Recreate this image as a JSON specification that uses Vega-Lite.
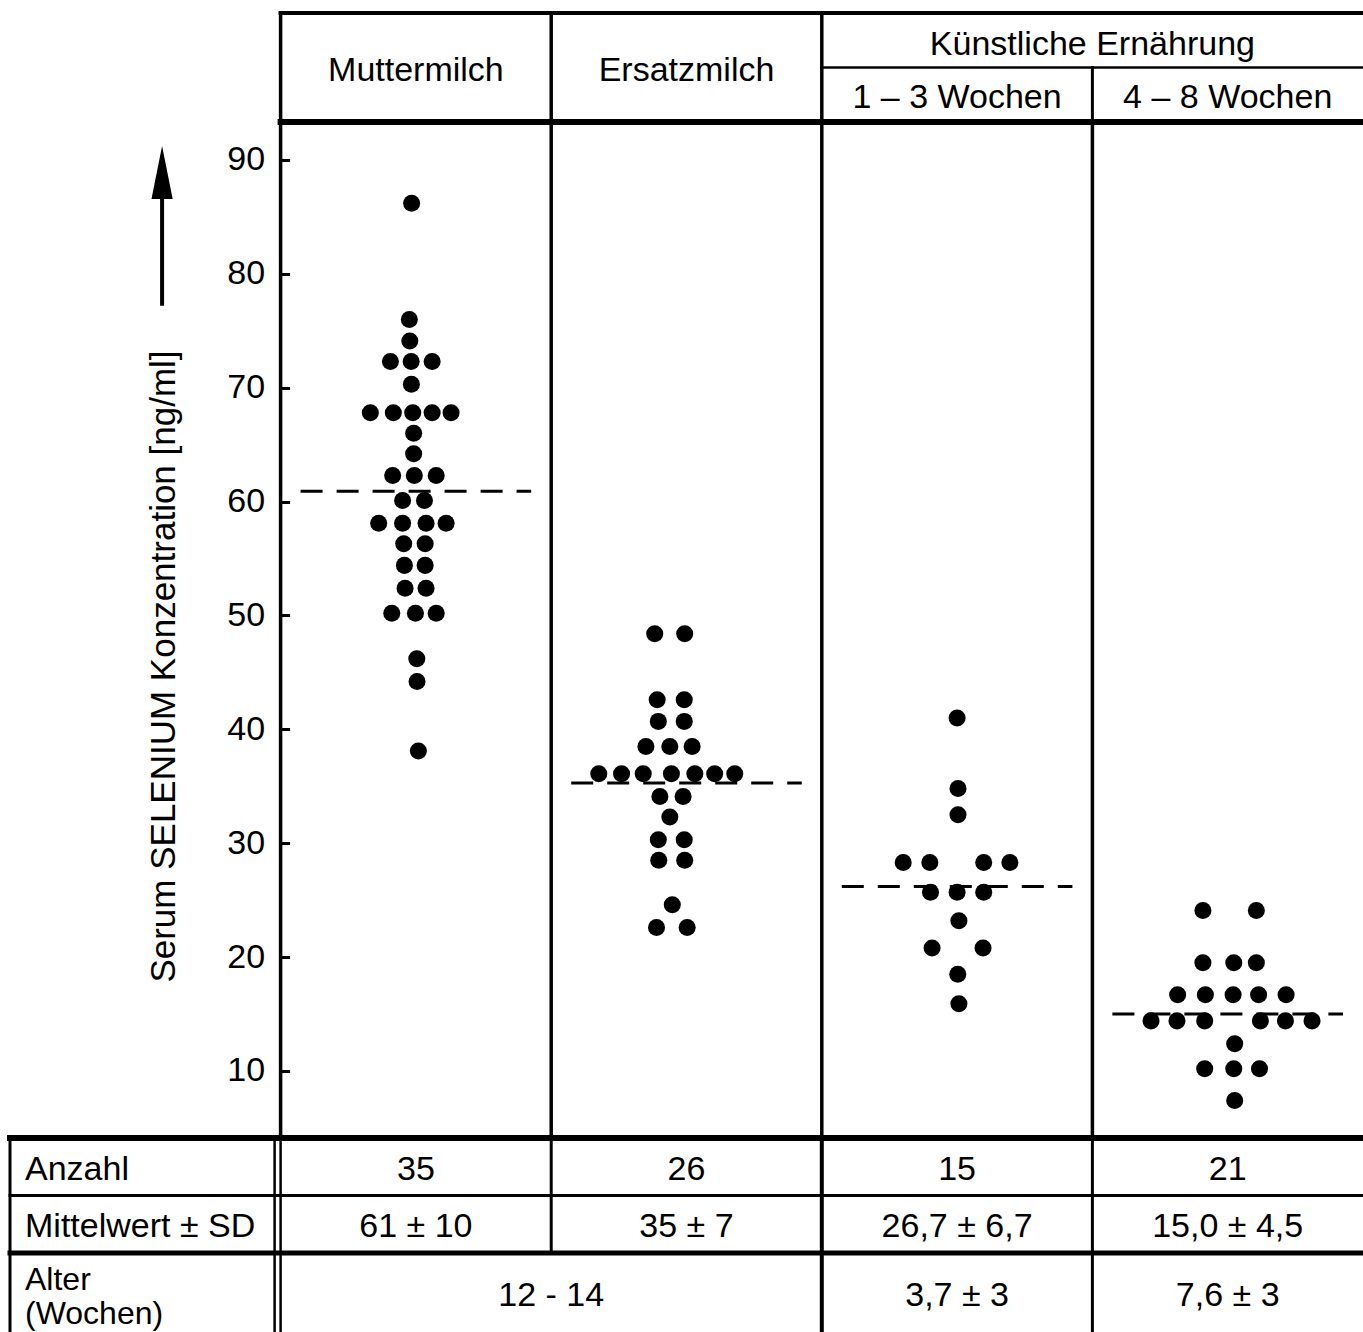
{
  "$schema": "https://vega.github.io/schema/vega-lite/v6.json",
  "padding": {"left": 5, "top": 10, "right": 0, "bottom": 0},
  "background": "white",
  "spacing": 0,
  "bounds": "flush",
  "resolve": {"scale": {"x": "independent", "y": "independent"}},
  "config": {
    "view": {"stroke": null},
    "font": "Liberation Sans",
    "text": {"font": "Liberation Sans", "fontSize": 34, "color": "black", "dy": 3},
    "rule": {"color": "black", "strokeCap": "square"}
  },
  "datasets": {
    "punkte": [
      {"g": "Muttermilch", "v": 86.2, "o": -0.19}, {"g": "Muttermilch", "v": 76.0, "o": -0.29}, {"g": "Muttermilch", "v": 74.1, "o": -0.27},
      {"g": "Muttermilch", "v": 72.3, "o": -1.13}, {"g": "Muttermilch", "v": 72.3, "o": -0.21}, {"g": "Muttermilch", "v": 72.3, "o": 0.72},
      {"g": "Muttermilch", "v": 70.3, "o": -0.2},
      {"g": "Muttermilch", "v": 67.8, "o": -2.02}, {"g": "Muttermilch", "v": 67.8, "o": -1.0}, {"g": "Muttermilch", "v": 67.8, "o": -0.14}, {"g": "Muttermilch", "v": 67.8, "o": 0.72}, {"g": "Muttermilch", "v": 67.8, "o": 1.56},
      {"g": "Muttermilch", "v": 66.0, "o": -0.1}, {"g": "Muttermilch", "v": 64.2, "o": -0.1},
      {"g": "Muttermilch", "v": 62.3, "o": -1.03}, {"g": "Muttermilch", "v": 62.3, "o": -0.07}, {"g": "Muttermilch", "v": 62.3, "o": 0.9},
      {"g": "Muttermilch", "v": 60.1, "o": -0.59}, {"g": "Muttermilch", "v": 60.1, "o": 0.38},
      {"g": "Muttermilch", "v": 58.1, "o": -1.65}, {"g": "Muttermilch", "v": 58.1, "o": -0.59}, {"g": "Muttermilch", "v": 58.1, "o": 0.45}, {"g": "Muttermilch", "v": 58.1, "o": 1.34},
      {"g": "Muttermilch", "v": 56.3, "o": -0.54}, {"g": "Muttermilch", "v": 56.3, "o": 0.41},
      {"g": "Muttermilch", "v": 54.4, "o": -0.51}, {"g": "Muttermilch", "v": 54.4, "o": 0.41},
      {"g": "Muttermilch", "v": 52.4, "o": -0.48}, {"g": "Muttermilch", "v": 52.4, "o": 0.45},
      {"g": "Muttermilch", "v": 50.2, "o": -1.07}, {"g": "Muttermilch", "v": 50.2, "o": -0.02}, {"g": "Muttermilch", "v": 50.2, "o": 0.9},
      {"g": "Muttermilch", "v": 46.2, "o": 0.04}, {"g": "Muttermilch", "v": 44.2, "o": 0.05}, {"g": "Muttermilch", "v": 38.1, "o": 0.11},
      {"g": "Ersatzmilch", "v": 48.4, "o": -1.41}, {"g": "Ersatzmilch", "v": 48.4, "o": -0.08},
      {"g": "Ersatzmilch", "v": 42.6, "o": -1.3}, {"g": "Ersatzmilch", "v": 42.6, "o": -0.1},
      {"g": "Ersatzmilch", "v": 40.7, "o": -1.25}, {"g": "Ersatzmilch", "v": 40.7, "o": -0.1},
      {"g": "Ersatzmilch", "v": 38.5, "o": -1.8}, {"g": "Ersatzmilch", "v": 38.5, "o": -0.74}, {"g": "Ersatzmilch", "v": 38.5, "o": 0.25},
      {"g": "Ersatzmilch", "v": 36.1, "o": -3.89}, {"g": "Ersatzmilch", "v": 36.1, "o": -2.88}, {"g": "Ersatzmilch", "v": 36.1, "o": -1.92}, {"g": "Ersatzmilch", "v": 36.1, "o": -0.67}, {"g": "Ersatzmilch", "v": 36.1, "o": 0.37}, {"g": "Ersatzmilch", "v": 36.1, "o": 1.25}, {"g": "Ersatzmilch", "v": 36.1, "o": 2.14},
      {"g": "Ersatzmilch", "v": 34.1, "o": -1.18}, {"g": "Ersatzmilch", "v": 34.1, "o": -0.15},
      {"g": "Ersatzmilch", "v": 32.3, "o": -0.74},
      {"g": "Ersatzmilch", "v": 30.3, "o": -1.25}, {"g": "Ersatzmilch", "v": 30.3, "o": -0.1},
      {"g": "Ersatzmilch", "v": 28.5, "o": -1.23}, {"g": "Ersatzmilch", "v": 28.5, "o": -0.08},
      {"g": "Ersatzmilch", "v": 24.6, "o": -0.63},
      {"g": "Ersatzmilch", "v": 22.6, "o": -1.33}, {"g": "Ersatzmilch", "v": 22.6, "o": 0.03},
      {"g": "1 – 3 Wochen", "v": 41.0, "o": 0.0}, {"g": "1 – 3 Wochen", "v": 34.8, "o": 0.04}, {"g": "1 – 3 Wochen", "v": 32.5, "o": 0.04},
      {"g": "1 – 3 Wochen", "v": 28.3, "o": -2.39}, {"g": "1 – 3 Wochen", "v": 28.3, "o": -1.21}, {"g": "1 – 3 Wochen", "v": 28.3, "o": 1.18}, {"g": "1 – 3 Wochen", "v": 28.3, "o": 2.34},
      {"g": "1 – 3 Wochen", "v": 25.7, "o": -1.18}, {"g": "1 – 3 Wochen", "v": 25.7, "o": 0.0}, {"g": "1 – 3 Wochen", "v": 25.7, "o": 1.18},
      {"g": "1 – 3 Wochen", "v": 23.2, "o": 0.08},
      {"g": "1 – 3 Wochen", "v": 20.8, "o": -1.11}, {"g": "1 – 3 Wochen", "v": 20.8, "o": 1.15},
      {"g": "1 – 3 Wochen", "v": 18.5, "o": 0.03}, {"g": "1 – 3 Wochen", "v": 15.9, "o": 0.08},
      {"g": "4 – 8 Wochen", "v": 24.1, "o": -1.1}, {"g": "4 – 8 Wochen", "v": 24.1, "o": 1.27},
      {"g": "4 – 8 Wochen", "v": 19.5, "o": -1.1}, {"g": "4 – 8 Wochen", "v": 19.5, "o": 0.27}, {"g": "4 – 8 Wochen", "v": 19.5, "o": 1.27},
      {"g": "4 – 8 Wochen", "v": 16.7, "o": -2.22}, {"g": "4 – 8 Wochen", "v": 16.7, "o": -0.99}, {"g": "4 – 8 Wochen", "v": 16.7, "o": 0.24}, {"g": "4 – 8 Wochen", "v": 16.7, "o": 1.37}, {"g": "4 – 8 Wochen", "v": 16.7, "o": 2.59},
      {"g": "4 – 8 Wochen", "v": 14.4, "o": -3.4}, {"g": "4 – 8 Wochen", "v": 14.4, "o": -2.25}, {"g": "4 – 8 Wochen", "v": 14.4, "o": -1.02}, {"g": "4 – 8 Wochen", "v": 14.4, "o": 1.45}, {"g": "4 – 8 Wochen", "v": 14.4, "o": 2.56}, {"g": "4 – 8 Wochen", "v": 14.4, "o": 3.74},
      {"g": "4 – 8 Wochen", "v": 12.4, "o": 0.31},
      {"g": "4 – 8 Wochen", "v": 10.2, "o": -1.02}, {"g": "4 – 8 Wochen", "v": 10.2, "o": 0.27}, {"g": "4 – 8 Wochen", "v": 10.2, "o": 1.41},
      {"g": "4 – 8 Wochen", "v": 7.4, "o": 0.31}
    ],
    "mittelwerte": [
      {"g": "Muttermilch", "von": 1, "bis": 2, "m": 60.9},
      {"g": "Ersatzmilch", "von": 2, "bis": 3, "m": 35.3},
      {"g": "1 – 3 Wochen", "von": 3, "bis": 4, "m": 26.2},
      {"g": "4 – 8 Wochen", "von": 4, "bis": 5, "m": 15.0}
    ],
    "kopf": [
      {"t": "Muttermilch", "g": "Muttermilch", "ebene": "beide"},
      {"t": "Ersatzmilch", "g": "Ersatzmilch", "ebene": "beide"},
      {"t": "Künstliche Ernährung", "g": "1 – 3 Wochen", "ebene": "oben"},
      {"t": "1 – 3 Wochen", "g": "1 – 3 Wochen", "ebene": "unten"},
      {"t": "4 – 8 Wochen", "g": "4 – 8 Wochen", "ebene": "unten"}
    ],
    "tabelle": [
      {"teil": "A", "zeile": "Anzahl", "g": "Merkmal", "text": "Anzahl"},
      {"teil": "A", "zeile": "Anzahl", "g": "Muttermilch", "text": "35"},
      {"teil": "A", "zeile": "Anzahl", "g": "Ersatzmilch", "text": "26"},
      {"teil": "A", "zeile": "Anzahl", "g": "1 – 3 Wochen", "text": "15"},
      {"teil": "A", "zeile": "Anzahl", "g": "4 – 8 Wochen", "text": "21"},
      {"teil": "A", "zeile": "Mittelwert ± SD", "g": "Merkmal", "text": "Mittelwert ± SD"},
      {"teil": "A", "zeile": "Mittelwert ± SD", "g": "Muttermilch", "text": "61 ± 10"},
      {"teil": "A", "zeile": "Mittelwert ± SD", "g": "Ersatzmilch", "text": "35 ± 7"},
      {"teil": "A", "zeile": "Mittelwert ± SD", "g": "1 – 3 Wochen", "text": "26,7 ± 6,7"},
      {"teil": "A", "zeile": "Mittelwert ± SD", "g": "4 – 8 Wochen", "text": "15,0 ± 4,5"},
      {"teil": "B", "zeile": "Alter (Wochen)", "g": "Merkmal", "text": "Alter\n(Wochen)"},
      {"teil": "B", "zeile": "Alter (Wochen)", "g": "Muttermilch", "text": "12 - 14", "zweispaltig": true},
      {"teil": "B", "zeile": "Alter (Wochen)", "g": "1 – 3 Wochen", "text": "3,7 ± 3"},
      {"teil": "B", "zeile": "Alter (Wochen)", "g": "4 – 8 Wochen", "text": "7,6 ± 3"}
    ]
  },
  "vconcat": [
    {
      "width": 1353,
      "height": 109,
      "resolve": {"scale": {"x": "independent", "y": "independent"}},
      "layer": [
        {
          "data": {"values": [{"x": 1, "y": 0, "y2": 2}, {"x": 2, "y": 0, "y2": 2}, {"x": 3, "y": 0, "y2": 2}]},
          "mark": {"type": "rule", "strokeWidth": 3.5},
          "encoding": {
            "x": {"field": "x", "type": "quantitative", "scale": {"domain": [0, 5], "nice": false, "zero": false}, "axis": null},
            "y": {"field": "y", "type": "quantitative", "scale": {"domain": [0, 2], "reverse": true, "nice": false}, "axis": null},
            "y2": {"field": "y2"}
          }
        },
        {
          "data": {"values": [{"x": 4, "y": 1, "y2": 2}]},
          "mark": {"type": "rule", "strokeWidth": 3},
          "encoding": {
            "x": {"field": "x", "type": "quantitative", "scale": {"domain": [0, 5], "nice": false, "zero": false}, "axis": null},
            "y": {"field": "y", "type": "quantitative", "scale": {"domain": [0, 2], "reverse": true, "nice": false}, "axis": null},
            "y2": {"field": "y2"}
          }
        },
        {
          "data": {"values": [{"x": 1, "x2": 5, "y": 0}]},
          "mark": {"type": "rule", "strokeWidth": 4},
          "encoding": {
            "x": {"field": "x", "type": "quantitative", "scale": {"domain": [0, 5], "nice": false, "zero": false}, "axis": null},
            "x2": {"field": "x2"},
            "y": {"field": "y", "type": "quantitative", "scale": {"domain": [0, 2], "reverse": true, "nice": false}, "axis": null}
          }
        },
        {
          "data": {"values": [{"x": 3, "x2": 5, "y": 1}]},
          "mark": {"type": "rule", "strokeWidth": 2.5},
          "encoding": {
            "x": {"field": "x", "type": "quantitative", "scale": {"domain": [0, 5], "nice": false, "zero": false}, "axis": null},
            "x2": {"field": "x2"},
            "y": {"field": "y", "type": "quantitative", "scale": {"domain": [0, 2], "reverse": true, "nice": false}, "axis": null}
          }
        },
        {
          "data": {"values": [{"x": 1, "x2": 5, "y": 2}]},
          "mark": {"type": "rule", "strokeWidth": 6},
          "encoding": {
            "x": {"field": "x", "type": "quantitative", "scale": {"domain": [0, 5], "nice": false, "zero": false}, "axis": null},
            "x2": {"field": "x2"},
            "y": {"field": "y", "type": "quantitative", "scale": {"domain": [0, 2], "reverse": true, "nice": false}, "axis": null}
          }
        },
        {
          "data": {"name": "kopf"},
          "transform": [{"filter": "datum.ebene == 'beide'"}],
          "mark": {"type": "text"},
          "encoding": {
            "x": {"field": "g", "type": "nominal", "scale": {"type": "band", "domain": ["Merkmal", "Muttermilch", "Ersatzmilch", "1 – 3 Wochen", "4 – 8 Wochen"], "paddingInner": 0, "paddingOuter": 0}, "axis": null},
            "y": {"datum": "unten", "type": "nominal", "bandPosition": 0, "scale": {"type": "band", "domain": ["oben", "unten"], "paddingInner": 0, "paddingOuter": 0}, "axis": null},
            "text": {"field": "t"}
          }
        },
        {
          "data": {"name": "kopf"},
          "transform": [{"filter": "datum.ebene == 'oben'"}],
          "mark": {"type": "text", "dy": 5},
          "encoding": {
            "x": {"field": "g", "type": "nominal", "bandPosition": 1, "scale": {"type": "band", "domain": ["Merkmal", "Muttermilch", "Ersatzmilch", "1 – 3 Wochen", "4 – 8 Wochen"], "paddingInner": 0, "paddingOuter": 0}, "axis": null},
            "y": {"field": "ebene", "type": "nominal", "scale": {"type": "band", "domain": ["oben", "unten"], "paddingInner": 0, "paddingOuter": 0}, "axis": null},
            "text": {"field": "t"}
          }
        },
        {
          "data": {"name": "kopf"},
          "transform": [{"filter": "datum.ebene == 'unten'"}],
          "mark": {"type": "text"},
          "encoding": {
            "x": {"field": "g", "type": "nominal", "scale": {"type": "band", "domain": ["Merkmal", "Muttermilch", "Ersatzmilch", "1 – 3 Wochen", "4 – 8 Wochen"], "paddingInner": 0, "paddingOuter": 0}, "axis": null},
            "y": {"field": "ebene", "type": "nominal", "scale": {"type": "band", "domain": ["oben", "unten"], "paddingInner": 0, "paddingOuter": 0}, "axis": null},
            "text": {"field": "t"}
          }
        }
      ]
    },
    {
      "width": 1353,
      "height": 1016,
      "resolve": {"scale": {"x": "independent"}},
      "layer": [
        {
          "data": {"name": "punkte"},
          "mark": {"type": "point", "filled": true, "color": "black", "size": 290, "opacity": 1, "strokeWidth": 0},
          "encoding": {
            "x": {"field": "g", "type": "nominal", "scale": {"type": "band", "domain": ["Merkmal", "Muttermilch", "Ersatzmilch", "1 – 3 Wochen", "4 – 8 Wochen"], "paddingInner": 0, "paddingOuter": 0}, "axis": null},
            "xOffset": {"field": "o", "type": "quantitative", "scale": {"domain": [-6, 6], "nice": false, "zero": false}},
            "y": {
              "field": "v", "type": "quantitative",
              "scale": {"domain": [4.115, 93.337], "nice": false, "zero": false},
              "axis": {
                "orient": "left", "offset": -270.6, "values": [10, 20, 30, 40, 50, 60, 70, 80, 90],
                "domain": false, "grid": false, "ticks": true, "tickSize": -9, "tickWidth": 3, "tickColor": "black",
                "labelFont": "Liberation Sans", "labelFontSize": 34, "labelColor": "black", "labelPadding": 25,
                "title": "Serum SELENIUM Konzentration [ng/ml]", "titleFont": "Liberation Sans", "titleFontSize": 35,
                "titleFontWeight": "normal", "titleColor": "black", "titlePadding": 45, "titleY": 544
              }
            }
          }
        },
        {
          "data": {"name": "mittelwerte"},
          "mark": {"type": "rule", "strokeWidth": 3, "strokeDash": [22, 14], "strokeCap": "butt", "xOffset": 20, "x2Offset": -20},
          "encoding": {
            "x": {"field": "von", "type": "quantitative", "scale": {"domain": [0, 5], "nice": false, "zero": false}, "axis": null},
            "x2": {"field": "bis"},
            "y": {"field": "m", "type": "quantitative"}
          }
        },
        {
          "data": {"values": [{"x": 1}, {"x": 2}, {"x": 3}, {"x": 4}]},
          "mark": {"type": "rule", "strokeWidth": 3.5},
          "encoding": {
            "x": {"field": "x", "type": "quantitative", "scale": {"domain": [0, 5], "nice": false, "zero": false}, "axis": null}
          }
        },
        {
          "data": {"values": [{}]},
          "mark": {"type": "rule", "strokeWidth": 4, "strokeCap": "butt"},
          "encoding": {
            "x": {"datum": 0.562, "type": "quantitative", "scale": {"domain": [0, 5], "nice": false, "zero": false}, "axis": null},
            "y": {"datum": 77.2, "type": "quantitative"},
            "y2": {"datum": 87.5}
          }
        },
        {
          "data": {"values": [{}]},
          "mark": {"type": "point", "shape": "M0,-1L0.4,1L-0.4,1Z", "filled": true, "size": 2809, "color": "black", "opacity": 1, "strokeWidth": 0},
          "encoding": {
            "x": {"datum": 0.562, "type": "quantitative", "scale": {"domain": [0, 5], "nice": false, "zero": false}, "axis": null},
            "y": {"datum": 88.9, "type": "quantitative"}
          }
        }
      ]
    },
    {
      "width": 1353,
      "height": 115,
      "resolve": {"scale": {"x": "independent", "y": "independent"}},
      "layer": [
        {
          "data": {"values": [{"x": 0}, {"x": 2}, {"x": 4}]},
          "mark": {"type": "rule", "strokeWidth": 3},
          "encoding": {"x": {"field": "x", "type": "quantitative", "scale": {"domain": [0, 5], "nice": false, "zero": false}, "axis": null}}
        },
        {
          "data": {"values": [{"x": 3}]},
          "mark": {"type": "rule", "strokeWidth": 4},
          "encoding": {"x": {"field": "x", "type": "quantitative", "scale": {"domain": [0, 5], "nice": false, "zero": false}, "axis": null}}
        },
        {
          "data": {"values": [{"x": 1}]},
          "mark": {"type": "rule", "strokeWidth": 2.5},
          "encoding": {"x": {"field": "x", "type": "quantitative", "scale": {"domain": [0, 5], "nice": false, "zero": false}, "axis": null}}
        },
        {
          "data": {"values": [{"x": 1}]},
          "mark": {"type": "rule", "strokeWidth": 2.5, "xOffset": -6},
          "encoding": {"x": {"field": "x", "type": "quantitative", "scale": {"domain": [0, 5], "nice": false, "zero": false}, "axis": null}}
        },
        {
          "data": {"values": [{"x": 0, "x2": 5, "y": 0}]},
          "mark": {"type": "rule", "strokeWidth": 6},
          "encoding": {
            "x": {"field": "x", "type": "quantitative", "scale": {"domain": [0, 5], "nice": false, "zero": false}, "axis": null},
            "x2": {"field": "x2"},
            "y": {"field": "y", "type": "quantitative", "scale": {"domain": [0, 2], "reverse": true, "nice": false}, "axis": null}
          }
        },
        {
          "data": {"values": [{"x": 0, "x2": 5, "y": 1}]},
          "mark": {"type": "rule", "strokeWidth": 3},
          "encoding": {
            "x": {"field": "x", "type": "quantitative", "scale": {"domain": [0, 5], "nice": false, "zero": false}, "axis": null},
            "x2": {"field": "x2"},
            "y": {"field": "y", "type": "quantitative", "scale": {"domain": [0, 2], "reverse": true, "nice": false}, "axis": null}
          }
        },
        {
          "data": {"values": [{"x": 0, "x2": 5, "y": 2}]},
          "mark": {"type": "rule", "strokeWidth": 5},
          "encoding": {
            "x": {"field": "x", "type": "quantitative", "scale": {"domain": [0, 5], "nice": false, "zero": false}, "axis": null},
            "x2": {"field": "x2"},
            "y": {"field": "y", "type": "quantitative", "scale": {"domain": [0, 2], "reverse": true, "nice": false}, "axis": null}
          }
        },
        {
          "data": {"name": "tabelle"},
          "transform": [{"filter": "datum.teil == 'A' && datum.g == 'Merkmal'"}],
          "mark": {"type": "text", "align": "left", "dx": 15},
          "encoding": {
            "x": {"field": "g", "type": "nominal", "bandPosition": 0, "scale": {"type": "band", "domain": ["Merkmal", "Muttermilch", "Ersatzmilch", "1 – 3 Wochen", "4 – 8 Wochen"], "paddingInner": 0, "paddingOuter": 0}, "axis": null},
            "y": {"field": "zeile", "type": "nominal", "scale": {"type": "band", "domain": ["Anzahl", "Mittelwert ± SD"], "paddingInner": 0, "paddingOuter": 0}, "axis": null},
            "text": {"field": "text"}
          }
        },
        {
          "data": {"name": "tabelle"},
          "transform": [{"filter": "datum.teil == 'A' && datum.g != 'Merkmal'"}],
          "mark": {"type": "text"},
          "encoding": {
            "x": {"field": "g", "type": "nominal", "scale": {"type": "band", "domain": ["Merkmal", "Muttermilch", "Ersatzmilch", "1 – 3 Wochen", "4 – 8 Wochen"], "paddingInner": 0, "paddingOuter": 0}, "axis": null},
            "y": {"field": "zeile", "type": "nominal", "scale": {"type": "band", "domain": ["Anzahl", "Mittelwert ± SD"], "paddingInner": 0, "paddingOuter": 0}, "axis": null},
            "text": {"field": "text"}
          }
        }
      ]
    },
    {
      "width": 1353,
      "height": 80,
      "resolve": {"scale": {"x": "independent", "y": "independent"}},
      "layer": [
        {
          "data": {"values": [{"x": 0}, {"x": 4}]},
          "mark": {"type": "rule", "strokeWidth": 3},
          "encoding": {"x": {"field": "x", "type": "quantitative", "scale": {"domain": [0, 5], "nice": false, "zero": false}, "axis": null}}
        },
        {
          "data": {"values": [{"x": 3}]},
          "mark": {"type": "rule", "strokeWidth": 4},
          "encoding": {"x": {"field": "x", "type": "quantitative", "scale": {"domain": [0, 5], "nice": false, "zero": false}, "axis": null}}
        },
        {
          "data": {"values": [{"x": 1}]},
          "mark": {"type": "rule", "strokeWidth": 2.5},
          "encoding": {"x": {"field": "x", "type": "quantitative", "scale": {"domain": [0, 5], "nice": false, "zero": false}, "axis": null}}
        },
        {
          "data": {"values": [{"x": 1}]},
          "mark": {"type": "rule", "strokeWidth": 2.5, "xOffset": -6},
          "encoding": {"x": {"field": "x", "type": "quantitative", "scale": {"domain": [0, 5], "nice": false, "zero": false}, "axis": null}}
        },
        {
          "data": {"name": "tabelle"},
          "transform": [{"filter": "datum.teil == 'B' && datum.g == 'Merkmal'"}],
          "mark": {"type": "text", "align": "left", "dx": 15, "dy": -13, "fontSize": 32, "lineBreak": "\n", "lineHeight": 34},
          "encoding": {
            "x": {"field": "g", "type": "nominal", "bandPosition": 0, "scale": {"type": "band", "domain": ["Merkmal", "Muttermilch", "Ersatzmilch", "1 – 3 Wochen", "4 – 8 Wochen"], "paddingInner": 0, "paddingOuter": 0}, "axis": null},
            "y": {"field": "zeile", "type": "nominal", "scale": {"type": "band", "domain": ["Alter (Wochen)"], "paddingInner": 0, "paddingOuter": 0}, "axis": null},
            "text": {"field": "text"}
          }
        },
        {
          "data": {"name": "tabelle"},
          "transform": [{"filter": "datum.teil == 'B' && datum.g != 'Merkmal' && !datum.zweispaltig"}],
          "mark": {"type": "text"},
          "encoding": {
            "x": {"field": "g", "type": "nominal", "scale": {"type": "band", "domain": ["Merkmal", "Muttermilch", "Ersatzmilch", "1 – 3 Wochen", "4 – 8 Wochen"], "paddingInner": 0, "paddingOuter": 0}, "axis": null},
            "y": {"field": "zeile", "type": "nominal", "scale": {"type": "band", "domain": ["Alter (Wochen)"], "paddingInner": 0, "paddingOuter": 0}, "axis": null},
            "text": {"field": "text"}
          }
        },
        {
          "data": {"name": "tabelle"},
          "transform": [{"filter": "datum.teil == 'B' && datum.zweispaltig"}],
          "mark": {"type": "text"},
          "encoding": {
            "x": {"field": "g", "type": "nominal", "bandPosition": 1, "scale": {"type": "band", "domain": ["Merkmal", "Muttermilch", "Ersatzmilch", "1 – 3 Wochen", "4 – 8 Wochen"], "paddingInner": 0, "paddingOuter": 0}, "axis": null},
            "y": {"field": "zeile", "type": "nominal", "scale": {"type": "band", "domain": ["Alter (Wochen)"], "paddingInner": 0, "paddingOuter": 0}, "axis": null},
            "text": {"field": "text"}
          }
        }
      ]
    }
  ]
}
